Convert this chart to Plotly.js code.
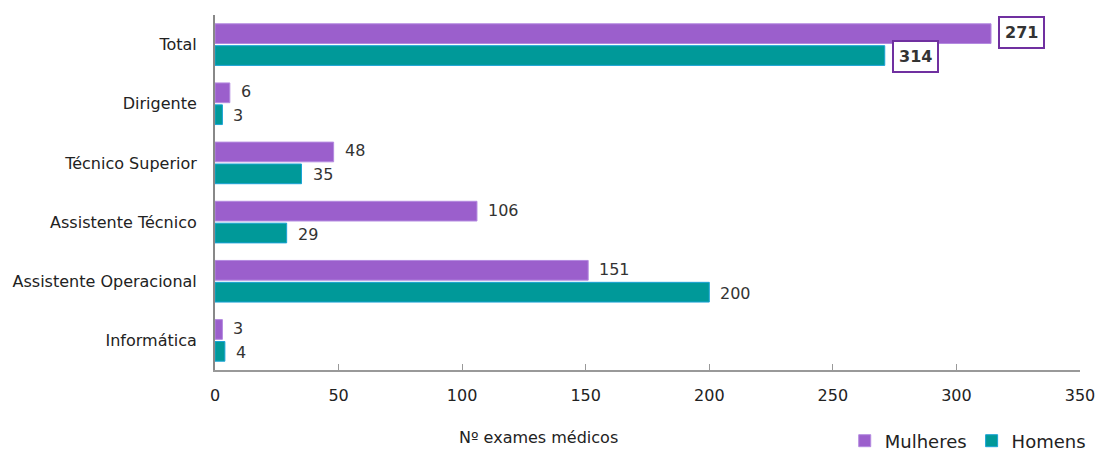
<!DOCTYPE html>
<html><head><meta charset="utf-8">
<script src="https://cdn.plot.ly/plotly-3.0.1.min.js"></script>
<style>html,body{margin:0;padding:0;background:#fff}</style>
</head><body>
<div id="chart" style="width:1100px;height:453px"></div>
<script>
const categories = ['Total', 'Dirigente', 'Técnico Superior', 'Assistente Técnico', 'Assistente Operacional', 'Informática'];
const mulheres = [314, 6, 48, 106, 151, 3];
const homens = [271, 3, 35, 29, 200, 4];
// labels as printed in the original (Total labels appear swapped there)
const mulheresLabels = ['271', '6', '48', '106', '151', '3'];
const homensLabels = ['314', '3', '35', '29', '200', '4'];
const xTicks = [0, 50, 100, 150, 200, 250, 300, 350];

const FONT = 'DejaVu Sans, Verdana, sans-serif';
const cM = '#9B5FCC', cH = '#009999';

const traces = [
  {type:'bar', orientation:'h', name:'Mulheres', y:categories, x:mulheres,
   marker:{color:cM, line:{color:'#b48ae0', width:1}}, hoverinfo:'x'},
  {type:'bar', orientation:'h', name:'Homens', y:categories, x:homens,
   marker:{color:cH, line:{color:'#1ba3d6', width:1}}, hoverinfo:'x'}
];

const annotations = [];
function addLabels(vals, labels, shift) {
  vals.forEach((v, i) => {
    const boxed = categories[i] === 'Total';
    annotations.push({
      x: v, y: categories[i], xref:'x', yref:'y',
      text: boxed ? '<b>' + labels[i] + '</b>' : labels[i],
      showarrow:false, xanchor:'left', yanchor:'middle',
      xshift: boxed ? 7 : 11, yshift: shift,
      font:{family:FONT, size: 16, color:'#333'},
      bordercolor: boxed ? '#7030A0' : 'rgba(0,0,0,0)',
      borderwidth: boxed ? 2 : 0, borderpad: boxed ? 5 : 0,
      bgcolor: boxed ? '#fff' : 'rgba(0,0,0,0)'
    });
  });
}
addLabels(mulheres, mulheresLabels, 12);
addLabels(homens, homensLabels, -12);

annotations.push({
  xref:'paper', yref:'paper', x:0.374, y:-0.19, xanchor:'center', yanchor:'middle',
  text:'Nº exames médicos', showarrow:false, font:{family:FONT, size:16, color:'#222'}
});

const layout = {
  width:1100, height:453,
  margin:{l:215, r:20, t:15, b:83, autoexpand:false},
  paper_bgcolor:'#fff', plot_bgcolor:'#fff',
  font:{family:FONT, size:16, color:'#222'},
  barmode:'group', bargap:0.26, bargroupgap:0.1,
  xaxis:{range:[0,350], tickvals:xTicks, showgrid:false, zeroline:false,
         showline:true, linecolor:'#999', linewidth:2, ticks:'inside', ticklen:6,
         tickcolor:'#999', tickwidth:1, ticklabelstandoff:10,
         tickfont:{family:FONT, size:16, color:'#222'}, fixedrange:true},
  yaxis:{autorange:'reversed', showgrid:false, zeroline:false, showline:true,
         linecolor:'#888', linewidth:2, ticks:'', ticklabelstandoff:13,
         tickfont:{family:FONT, size:16, color:'#222'}, fixedrange:true},
  legend:{orientation:'h', x:0.728, xanchor:'left', y:-0.2, yanchor:'middle',
          font:{family:FONT, size:18, color:'#222'}, traceorder:'normal',
          tracegroupgap:0, itemwidth:30},
  annotations:annotations,
  showlegend:true
};

Plotly.newPlot('chart', traces, layout, {displayModeBar:false, staticPlot:true});
</script>
</body></html>
